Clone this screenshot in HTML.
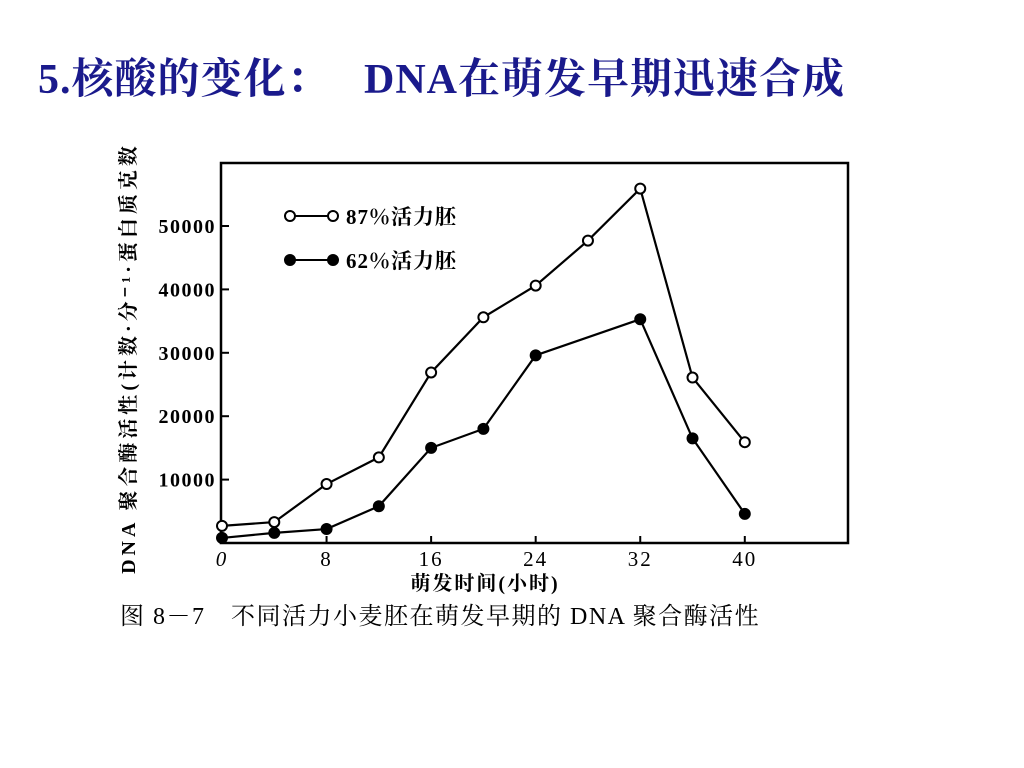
<!DOCTYPE html>
<html><head><meta charset="utf-8"><style>
body{margin:0;width:1024px;height:768px;background:#fff;overflow:hidden;font-family:"Liberation Serif","Noto Serif CJK SC",serif}
svg text{font-family:"Liberation Serif","Noto Serif CJK SC",serif}
</style></head><body>
<div style="position:absolute;left:38px;top:46px;font-size:42px;font-weight:bold;color:#1a1a8c;font-family:'Liberation Serif','Noto Serif CJK SC',serif;white-space:nowrap;letter-spacing:1px">5.核酸的变化：&nbsp;&nbsp;&nbsp;DNA在萌发早期迅速合成</div>
<svg id="chart" width="1024" height="768" style="position:absolute;left:0;top:0"></svg>
<script>
const hours=[0,4,8,12,16,20,24,28,32,36,40];
const s87=[2700,3300,9300,13500,26900,35600,40600,47700,55900,26100,15900];
const h62=[0,4,8,12,16,20,24,32,36,40];
const s62=[800,1600,2200,5800,15000,18000,29600,35300,16500,4600];
const xTicks=[0,8,16,24,32,40];
const yTicks=[10000,20000,30000,40000,50000];
const NS="http://www.w3.org/2000/svg";
const svg=document.getElementById('chart');
const X=h=>222+h*13.07, Y=v=>543-v*0.00634;
function mk(t,a,p){const e=document.createElementNS(NS,t);for(const k in a)e.setAttribute(k,a[k]);(p||svg).appendChild(e);return e;}
let f=mk('path',{d:'M221 163 H848 V543 H221 Z',fill:'none',stroke:'#000','stroke-width':2.5});


xTicks.forEach(t=>{
 let l=mk('line',{x1:X(t),x2:X(t),y1:543,y2:536,stroke:'#000','stroke-width':2});
 
 
 let tx=mk('text',{x:X(t),y:566,'text-anchor':'middle','font-size':21,'letter-spacing':2,'font-style':t==0?'italic':'normal'});tx.textContent=t;
 
 
});
yTicks.forEach(t=>{
 let l=mk('line',{x1:221,x2:229,y1:Y(t),y2:Y(t),stroke:'#000','stroke-width':2});
 
 
 let tx=mk('text',{x:216,y:Y(t)+7,'text-anchor':'end','font-size':20,'font-weight':'bold','letter-spacing':1.5,'font-family':'Liberation Sans'});tx.textContent=t;
 
 
});
function series(xs,ys,fill,name){
 let p=mk('polyline',{points:xs.map((h,i)=>X(h)+','+Y(ys[i])).join(' '),fill:'none',stroke:'#000','stroke-width':2.2});
 
 
 xs.forEach((h,i)=>{let c=mk('circle',{cx:X(h),cy:Y(ys[i]),r:5,fill:fill,stroke:'#000','stroke-width':2});
 
 });
}
series(hours,s87,'#fff','series-87');
series(h62,s62,'#000','series-62');
[[216,'#fff','87％活力胚'],[260,'#000','62％活力胚']].forEach(([y,fl,tx])=>{
 let g=mk('g',{});
 
 
 mk('line',{x1:290,x2:333,y1:y,y2:y,stroke:'#000','stroke-width':2},g);
 mk('circle',{cx:290,cy:y,r:5,fill:fl,stroke:'#000','stroke-width':2},g);
 mk('circle',{cx:333,cy:y,r:5,fill:fl,stroke:'#000','stroke-width':2},g);
 let t=mk('text',{x:346,y:y+8,'font-size':21,'font-weight':'bold','letter-spacing':1},g);t.textContent=tx;
});
let xt=mk('text',{x:485,y:590,'text-anchor':'middle','font-size':20,'font-weight':'bold','letter-spacing':2});xt.textContent='萌发时间(小时)';


let yt=mk('text',{x:0,y:0,'text-anchor':'middle','font-size':20,'font-weight':'bold','letter-spacing':4,transform:'translate(135,358) rotate(-90)'});yt.textContent='DNA 聚合酶活性(计数·分⁻¹·蛋白质克数';


let cap=mk('text',{x:120,y:624,'font-size':24,'letter-spacing':1.5});cap.textContent='图 8－7　不同活力小麦胚在萌发早期的 DNA 聚合酶活性';


</script>
</body></html>
